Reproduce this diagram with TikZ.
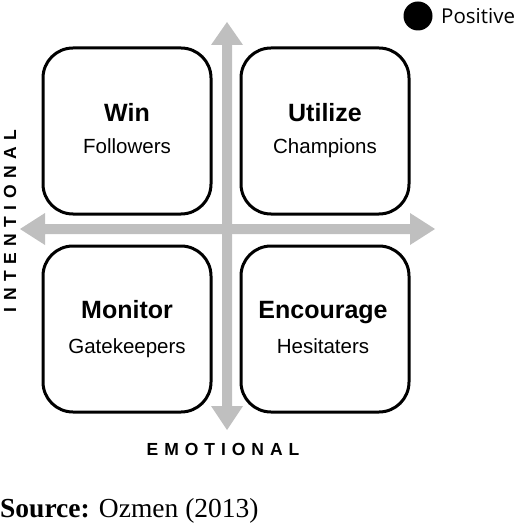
\documentclass[tikz,border=0pt]{standalone}
\usepackage{fontspec}
\setmainfont{Liberation Sans}
\newfontfamily\srcfont{Liberation Serif}
\newfontfamily\posfont{Open Sans}
\newfontfamily\axfont[LetterSpace=37]{Liberation Sans}
\newfontfamily\axxfont[LetterSpace=34]{Liberation Sans}
\begin{document}
\begin{tikzpicture}[x=1pt,y=-1pt,
  quad/.style={draw=black,line width=3pt,rounded corners=30pt,minimum width=168pt,minimum height=166pt},
  axarrow/.style={draw=none,fill=black!25},
  title/.style={anchor=base,font=\fontsize{25}{28}\selectfont\bfseries},
  sub/.style={anchor=base,font=\fontsize{20.5}{24}\selectfont}]
\useasboundingbox (0,0) rectangle (520,529);
\node[quad] (q1) at (127,131) {};
\node[quad] (q2) at (325,131) {};
\node[quad] (q3) at (127,329) {};
\node[quad] (q4) at (325,329) {};
% vertical arrow
\fill[axarrow] (222,45) -- (211,45) -- (227,22) -- (243,45) -- (232,45) -- (232,406) -- (243,406) -- (227,430) -- (211,406) -- (222,406) -- cycle;
% horizontal arrow
\fill[axarrow] (45,224) -- (45,213) -- (20,229) -- (45,245) -- (45,234) -- (410,234) -- (410,245) -- (435,229) -- (410,213) -- (410,224) -- cycle;
\node[title] (t1) at (127,122) {Win};
\node[sub] (s1) at (127,154) {Followers};
\node[title] (t2) at (325,122) {Utilize};
\node[sub] (s2) at (325,154) {Champions};
\node[title] (t3) at (127,318) {Monitor};
\node[sub] (s3) at (127,353) {Gatekeepers};
\node[title] (t4) at (323,318) {Encourage};
\node[sub] (s4) at (323,353) {Hesitaters};
\node[rotate=90,font=\axfont\fontsize{17.5}{18}\selectfont\bfseries] (ya) at (10,221) {INTENTIONAL};
\node[font=\axxfont\fontsize{17.5}{18}\selectfont\bfseries] (xa) at (223,449) {EMOTIONAL};
\fill (418,16) circle (14.5) coordinate (dot);
\node[anchor=west,font=\posfont\fontsize{20.5}{22}\selectfont,inner sep=0pt] (pos) at (441,16) {Positive};
\node[anchor=base west,inner sep=0pt,font=\srcfont\fontsize{27.5}{30}\selectfont] (src) at (0,517) {\textbf{Source:} Ozmen (2013)};
\end{tikzpicture}
\end{document}
